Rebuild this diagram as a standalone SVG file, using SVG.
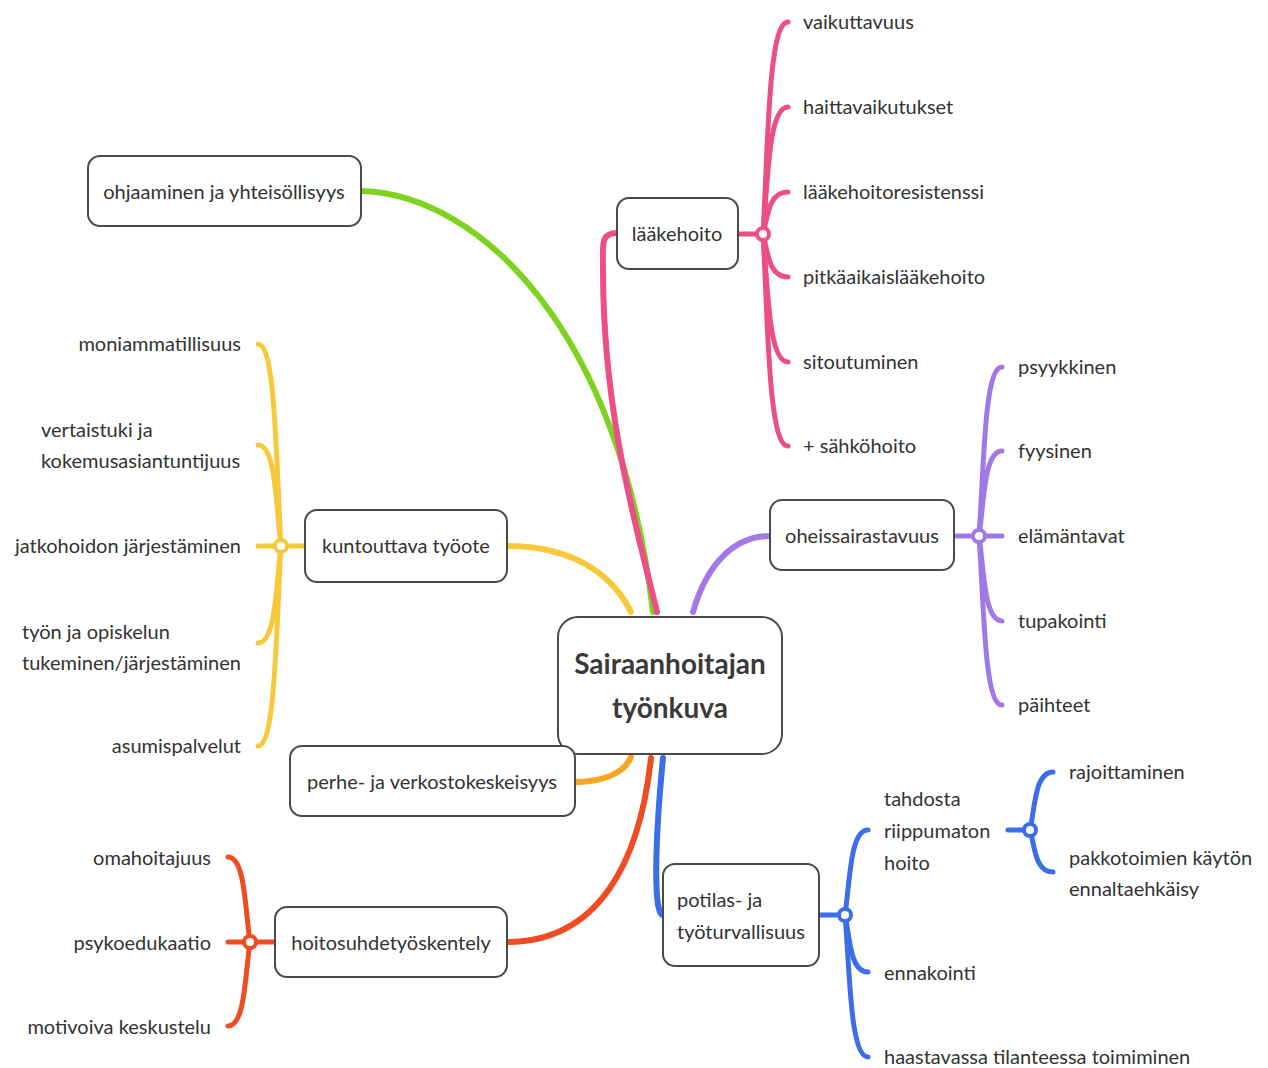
<svg xmlns="http://www.w3.org/2000/svg" width="1268" height="1068" viewBox="0 0 1268 1068">
<style>
  .box { fill: #ffffff; stroke: #4a4a4a; stroke-width: 2; }
  .t { font-family: Lato, "Open Sans", sans-serif; font-size: 20px; fill: #333333; }
  .c { text-anchor: middle; }
  .r { text-anchor: end; }
  .big { font-size: 28px; font-weight: bold; fill: #3a3a3a; }
  .ln { fill: none; stroke-width: 5; stroke-linecap: round; }
  .main { stroke-width: 6; }
  .hub { fill: #ffffff; stroke-width: 4; }
  .pink { stroke: #ec4f87; }
  .green { stroke: #7ed321; }
  .yellow { stroke: #f7c93a; }
  .orange { stroke: #f5a623; }
  .red { stroke: #f04b22; }
  .blue { stroke: #3b6ee8; }
  .purple { stroke: #a178e6; }
</style>
<rect width="1268" height="1068" fill="#ffffff"/>
<g id="connectors">
  <!-- main branches -->
  <path class="ln main green" d="M362,191 C480,195 620,330 653,612"/>
  <path class="ln main pink" d="M617,233 C600,233 603,245 603,270 C603,420 640,540 657,612"/>
  <path class="ln main yellow" d="M507,546 C580,546 615,580 631,612"/>
  <path class="ln main purple" d="M770,536 C730,536 705,570 693,612"/>
  <path class="ln main orange" d="M575,782 C605,782 625,772 631,757"/>
  <path class="ln main red" d="M507,942 C600,942 640,860 651,758"/>
  <path class="ln main blue" d="M663,915 C653,915 655,840 663,758"/>
  <!-- lääkehoito children -->
  <path class="ln pink" d="M738,234 L763,234"/>
  <path class="ln pink" d="M763,234 C768,149 768,22 788,22"/>
  <path class="ln pink" d="M763,234 C768,183 768,107 788,107"/>
  <path class="ln pink" d="M763,234 C768,217 768,192 788,192"/>
  <path class="ln pink" d="M763,234 C768,251 768,277 788,277"/>
  <path class="ln pink" d="M763,234 C768,285 768,362 788,362"/>
  <path class="ln pink" d="M763,234 C768,319 768,446 788,446"/>
  <!-- oheissairastavuus children -->
  <path class="ln purple" d="M954,536 L979,536"/>
  <path class="ln purple" d="M979,536 C984,468 984,367 1002,367"/>
  <path class="ln purple" d="M979,536 C984,502 984,451 1002,451"/>
  <path class="ln purple" d="M979,536 L1002,536"/>
  <path class="ln purple" d="M979,536 C984,570 984,621 1002,621"/>
  <path class="ln purple" d="M979,536 C984,604 984,705 1002,705"/>
  <!-- potilas children -->
  <path class="ln blue" d="M819,915 L845,915"/>
  <path class="ln blue" d="M845,915 C850,881 850,830 868,830"/>
  <path class="ln blue" d="M845,915 C850,938 850,972 868,972"/>
  <path class="ln blue" d="M845,915 C850,972 850,1057 868,1057"/>
  <path class="ln blue" d="M1008,830 L1030,830"/>
  <path class="ln blue" d="M1030,830 C1035,807 1035,772 1053,772"/>
  <path class="ln blue" d="M1030,830 C1035,847 1035,872 1053,872"/>
  <!-- kuntouttava children -->
  <path class="ln yellow" d="M305,546 L281,546"/>
  <path class="ln yellow" d="M281,546 C276,465 276,344 258,344"/>
  <path class="ln yellow" d="M281,546 C276,506 276,445 258,445"/>
  <path class="ln yellow" d="M281,546 L258,546"/>
  <path class="ln yellow" d="M281,546 C276,585 276,643 258,643"/>
  <path class="ln yellow" d="M281,546 C276,626 276,746 258,746"/>
  <!-- hoitosuhde children -->
  <path class="ln red" d="M275,942 L250,942"/>
  <path class="ln red" d="M250,942 C245,908 245,857 228,857"/>
  <path class="ln red" d="M250,942 L228,942"/>
  <path class="ln red" d="M250,942 C245,976 245,1026 228,1026"/>
  <!-- hubs -->
  <circle class="hub pink" cx="763" cy="234" r="6"/>
  <circle class="hub purple" cx="979" cy="536" r="6"/>
  <circle class="hub blue" cx="845" cy="915" r="6"/>
  <circle class="hub blue" cx="1030" cy="830" r="6"/>
  <circle class="hub yellow" cx="281" cy="546" r="6"/>
  <circle class="hub red" cx="250" cy="942" r="6"/>
</g>
<g id="center">
  <rect class="box" x="558" y="617" width="224" height="137" rx="20"/>
  <text class="t c big" x="670" y="674">Sairaanhoitajan</text>
  <text class="t c big" x="670" y="718">työnkuva</text>
</g>
<g id="laakehoito">
  <rect class="box" x="617" y="198" width="121" height="71" rx="12"/>
  <text class="t c" x="677" y="241">lääkehoito</text>
</g>
<g id="ohjaaminen">
  <rect class="box" x="88" y="156" width="273" height="70" rx="12"/>
  <text class="t c" x="224" y="199">ohjaaminen ja yhteisöllisyys</text>
</g>
<g id="kuntouttava">
  <rect class="box" x="305" y="510" width="202" height="72" rx="12"/>
  <text class="t c" x="406" y="553">kuntouttava työote</text>
</g>
<g id="perhe">
  <rect class="box" x="290" y="746" width="285" height="70" rx="12"/>
  <text class="t c" x="432" y="789">perhe- ja verkostokeskeisyys</text>
</g>
<g id="hoitosuhde">
  <rect class="box" x="275" y="907" width="232" height="70" rx="12"/>
  <text class="t c" x="391" y="950">hoitosuhdetyöskentely</text>
</g>
<g id="oheissairastavuus">
  <rect class="box" x="770" y="500" width="184" height="70" rx="12"/>
  <text class="t c" x="862" y="543">oheissairastavuus</text>
</g>
<g id="potilas">
  <rect class="box" x="663" y="864" width="156" height="102" rx="12"/>
  <text class="t" x="677" y="907">potilas- ja</text>
  <text class="t" x="677" y="939">työturvallisuus</text>
</g>
<g id="leaves-laakehoito">
  <text class="t" x="803" y="29">vaikuttavuus</text>
  <text class="t" x="803" y="114">haittavaikutukset</text>
  <text class="t" x="803" y="199">lääkehoitoresistenssi</text>
  <text class="t" x="803" y="284">pitkäaikaislääkehoito</text>
  <text class="t" x="803" y="369">sitoutuminen</text>
  <text class="t" x="803" y="453">+ sähköhoito</text>
</g>
<g id="leaves-oheis">
  <text class="t" x="1018" y="374">psyykkinen</text>
  <text class="t" x="1018" y="458">fyysinen</text>
  <text class="t" x="1018" y="543">elämäntavat</text>
  <text class="t" x="1018" y="628">tupakointi</text>
  <text class="t" x="1018" y="712">päihteet</text>
</g>
<g id="leaves-potilas">
  <text class="t" x="884" y="806">tahdosta</text>
  <text class="t" x="884" y="838">riippumaton</text>
  <text class="t" x="884" y="870">hoito</text>
  <text class="t" x="884" y="980">ennakointi</text>
  <text class="t" x="884" y="1064">haastavassa tilanteessa toimiminen</text>
  <text class="t" x="1069" y="779">rajoittaminen</text>
  <text class="t" x="1069" y="865">pakkotoimien käytön</text>
  <text class="t" x="1069" y="896">ennaltaehkäisy</text>
</g>
<g id="leaves-kuntouttava">
  <text class="t r" x="241" y="351">moniammatillisuus</text>
  <text class="t" x="41" y="437">vertaistuki ja</text>
  <text class="t" x="41" y="468">kokemusasiantuntijuus</text>
  <text class="t r" x="241" y="553">jatkohoidon järjestäminen</text>
  <text class="t" x="22" y="639">työn ja opiskelun</text>
  <text class="t" x="22" y="670">tukeminen/järjestäminen</text>
  <text class="t r" x="241" y="753">asumispalvelut</text>
</g>
<g id="leaves-hoitosuhde">
  <text class="t r" x="211" y="865">omahoitajuus</text>
  <text class="t r" x="211" y="950">psykoedukaatio</text>
  <text class="t r" x="211" y="1034">motivoiva keskustelu</text>
</g>
</svg>
